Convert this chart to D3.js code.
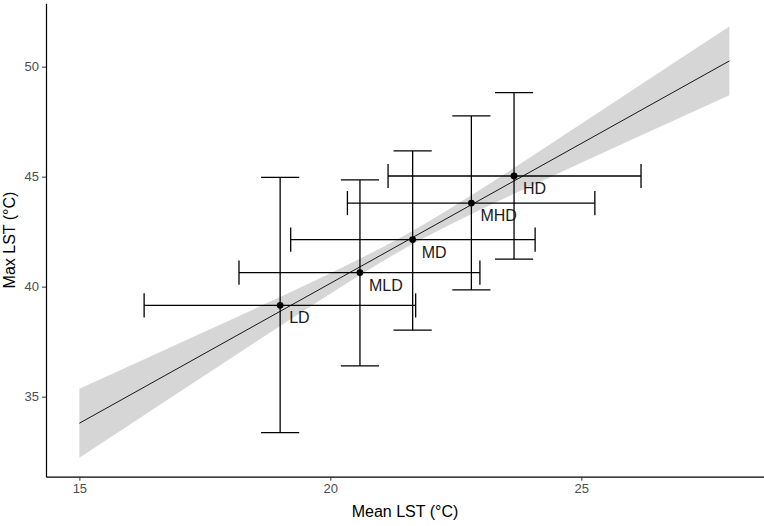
<!DOCTYPE html>
<html>
<head>
<meta charset="utf-8" />
<script src="https://cdn.jsdelivr.net/npm/d3@7"></script>
<style>
  body { margin: 0; background: #fff; }
  svg { font-family: Arial, "Liberation Sans", sans-serif; }
  .tick line { stroke: #333; }
  .domain { stroke: #000; }
</style>
</head>
<body>
<div id="chart"></div>
<script>
// groups with mean / sd of Mean LST (x) and Max LST (y)
var groups = ["LD", "MLD", "MD", "MHD", "HD"]
var meanX = [19.00, 20.59, 21.64, 22.81, 23.66]
var meanY = [39.15, 40.64, 42.14, 43.80, 45.03]
var xLow  = [16.29, 18.18, 19.21, 20.34, 21.15]
var xHigh = [21.70, 22.98, 24.08, 25.27, 26.19]
var yLow  = [33.36, 36.40, 38.02, 39.85, 41.25]
var yHigh = [44.97, 44.85, 46.17, 47.76, 48.82]

// linear fit and its confidence band
var fitX  = [15, 27.95]
var fitY  = [33.79, 50.26]
var bandX  = [15, 17, 19, 20, 21.5, 23, 24, 26, 27.95]
var bandLo = [32.22, 35.22, 38.21, 39.68, 41.76, 43.51, 44.58, 46.68, 48.70]
var bandHi = [35.36, 37.44, 39.53, 40.61, 42.36, 44.43, 45.90, 48.90, 51.82]

var xTicks = [15, 20, 25]
var yTicks = [35, 40, 45, 50]

var W = 764, H = 526
var pLeft = 46, pRight = 764, pTop = 3.3, pBottom = 476.7

var x = d3.scaleLinear().domain([14.335, 28.64]).range([pLeft, pRight])
var y = d3.scaleLinear().domain([31.36, 52.88]).range([pBottom, pTop])

var svg = d3.select("#chart").append("svg")
    .attr("width", W).attr("height", H)

// confidence band
var band = bandX.map(function(d, i) { return { x: d, lo: bandLo[i], hi: bandHi[i] } })
svg.append("path")
    .datum(band)
    .attr("fill", "#d6d6d6")
    .attr("d", d3.area()
        .curve(d3.curveMonotoneX)
        .x(function(d) { return x(d.x) })
        .y0(function(d) { return y(d.lo) })
        .y1(function(d) { return y(d.hi) }))

// fit line
svg.append("path")
    .datum(fitX.map(function(d, i) { return [d, fitY[i]] }))
    .attr("fill", "none")
    .attr("stroke", "#000")
    .attr("stroke-width", 0.9)
    .attr("d", d3.line()
        .x(function(d) { return x(d[0]) })
        .y(function(d) { return y(d[1]) }))

var pts = groups.map(function(g, i) {
    return { g: g, x: meanX[i], y: meanY[i], x0: xLow[i], x1: xHigh[i], y0: yLow[i], y1: yHigh[i] }
})

var capX = 0.38, capY = 0.55
var eb = svg.append("g").attr("stroke", "#000").attr("stroke-width", 1.3).attr("fill", "none")

pts.forEach(function(d) {
    // vertical bar
    eb.append("line").attr("x1", x(d.x)).attr("x2", x(d.x)).attr("y1", y(d.y0)).attr("y2", y(d.y1))
    eb.append("line").attr("x1", x(d.x - capX)).attr("x2", x(d.x + capX)).attr("y1", y(d.y0)).attr("y2", y(d.y0))
    eb.append("line").attr("x1", x(d.x - capX)).attr("x2", x(d.x + capX)).attr("y1", y(d.y1)).attr("y2", y(d.y1))
    // horizontal bar
    eb.append("line").attr("x1", x(d.x0)).attr("x2", x(d.x1)).attr("y1", y(d.y)).attr("y2", y(d.y))
    eb.append("line").attr("x1", x(d.x0)).attr("x2", x(d.x0)).attr("y1", y(d.y - capY)).attr("y2", y(d.y + capY))
    eb.append("line").attr("x1", x(d.x1)).attr("x2", x(d.x1)).attr("y1", y(d.y - capY)).attr("y2", y(d.y + capY))
})

svg.append("g").selectAll("circle")
    .data(pts).enter().append("circle")
    .attr("cx", function(d) { return x(d.x) })
    .attr("cy", function(d) { return y(d.y) })
    .attr("r", 3.4)
    .attr("fill", "#000")

svg.append("g").selectAll("text")
    .data(pts).enter().append("text")
    .attr("x", function(d) { return x(d.x) + 9 })
    .attr("y", function(d) { return y(d.y) + 18 })
    .attr("font-size", 16)
    .attr("fill", "#1a1a1a")
    .text(function(d) { return d.g })

// axes
var xAxis = svg.append("g")
    .attr("transform", "translate(0," + pBottom + ")")
    .call(d3.axisBottom(x).tickValues(xTicks).tickSizeInner(4).tickSizeOuter(0).tickPadding(3))

var yAxis = svg.append("g")
    .attr("transform", "translate(" + pLeft + ",0)")
    .call(d3.axisLeft(y).tickValues(yTicks).tickSizeInner(4).tickSizeOuter(0).tickPadding(3))

svg.selectAll(".tick text")
    .attr("font-size", 13)
    .attr("fill", "#4d4d4d")
    .attr("font-family", "Arial, 'Liberation Sans', sans-serif")

svg.selectAll(".domain").attr("stroke-width", 1.2)

svg.append("text")
    .attr("x", (pLeft + pRight) / 2)
    .attr("y", 517)
    .attr("text-anchor", "middle")
    .attr("font-size", 16)
    .attr("fill", "#000")
    .text("Mean LST (°C)")

svg.append("text")
    .attr("transform", "translate(15," + (pTop + pBottom) / 2 + ") rotate(-90)")
    .attr("text-anchor", "middle")
    .attr("font-size", 16)
    .attr("fill", "#000")
    .text("Max LST (°C)")
</script>
</body>
</html>
